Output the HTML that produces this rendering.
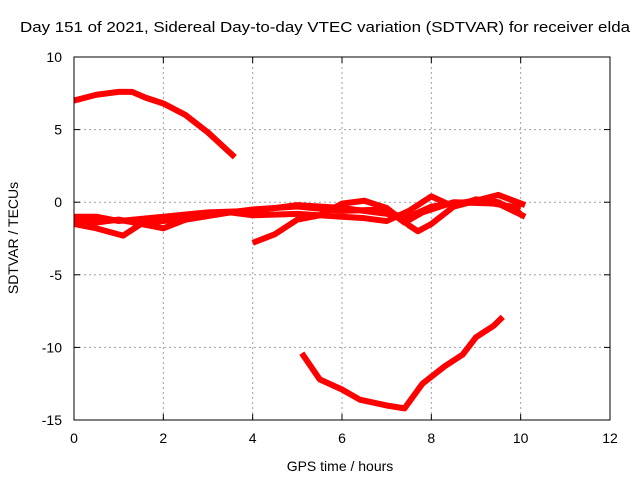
<!DOCTYPE html>
<html><head><meta charset="utf-8"><style>
body{margin:0;background:#fff}
svg{display:block;font-family:"Liberation Sans",sans-serif}
</style></head><body>
<svg id="chart" width="640" height="480">
<text x="20" y="32" font-size="15" textLength="610" lengthAdjust="spacingAndGlyphs">Day 151 of 2021, Sidereal Day-to-day VTEC variation (SDTVAR) for receiver elda</text>
<text x="340" y="471" font-size="14" text-anchor="middle">GPS time / hours</text>
<text transform="translate(18,238) rotate(-90)" font-size="14" text-anchor="middle">SDTVAR / TECUs</text>
<g id="grid"></g><g id="series"></g><g id="axes"></g>
</svg>
<script>
const xTicks=[0,2,4,6,8,10,12];
const yTicks=[10,5,0,-5,-10,-15];
const sA_x=[0,0.5,1.0,1.3,1.6,2.0,2.5,3.0,3.6];
const sA_y=[7.0,7.4,7.6,7.6,7.2,6.8,6.0,4.8,3.1];
const sB_x=[5.1,5.5,6.0,6.4,7.0,7.4,7.8,8.3,8.7,9.0,9.4,9.6];
const sB_y=[-10.4,-12.2,-12.9,-13.6,-14.0,-14.2,-12.5,-11.3,-10.5,-9.3,-8.5,-7.9];
const sC_x=[0,0.5,1,2,3,4,5,6,7,7.5,8,9,10];
const sC_y=[-1.0,-1.0,-1.3,-1.0,-0.7,-0.6,-0.2,-0.4,-0.8,-1.0,-0.3,0.1,-0.4];
const sD_x=[0,0.5,1.1,1.5,2,3,4,5,6,7,7.4,7.8,8.5,9.5,10.1];
const sD_y=[-1.5,-1.8,-2.3,-1.5,-1.3,-0.9,-0.5,-0.3,-0.6,-0.5,-1.4,-0.7,0,-0.1,-1.0];
const sE_x=[0,0.5,1,2,2.5,3.5,4,5,6,6.5,7,7.5,8,8.5,9.5,10.1];
const sE_y=[-1.2,-1.4,-1.2,-1.8,-1.2,-0.7,-0.9,-0.8,-1.0,-1.1,-1.3,-0.6,0.4,-0.3,0.5,-0.2];
const sF_x=[4,4.5,5,5.5,6,6.5,7,7.5,7.7,8.0,8.5,9,9.5,10];
const sF_y=[-2.8,-2.2,-1.2,-0.9,-0.1,0.1,-0.4,-1.6,-2.0,-1.5,-0.3,0.2,0,-0.8];
const X0=74,X1=610,Y0=420,Y1=57;
const sx=v=>X0+(v-0)/(12-0)*(X1-X0);
const sy=v=>Y0-(v+15)/25*(Y0-Y1);
const NS="http://www.w3.org/2000/svg";
function mk(t,a,p){const e=document.createElementNS(NS,t);for(const k in a)e.setAttribute(k,a[k]);p.appendChild(e);return e;}
const grid=document.getElementById('grid'),axes=document.getElementById('axes'),ser=document.getElementById('series');
xTicks.forEach(t=>{
 if(t>0&&t<12){const g=mk('line',{x1:sx(t),x2:sx(t),y1:Y1,y2:Y0,stroke:'#a0a0a0','stroke-dasharray':'2,3'},grid);
 
 }
 const l=mk('text',{x:sx(t),y:Y0+23,'font-size':14,'text-anchor':'middle'},axes);l.textContent=t;
 
 
 mk('line',{x1:sx(t),x2:sx(t),y1:Y0,y2:Y0-6,stroke:'#000'},axes);
 mk('line',{x1:sx(t),x2:sx(t),y1:Y1,y2:Y1+6,stroke:'#000'},axes);
});
yTicks.forEach(t=>{
 if(t>-15&&t<10){const g=mk('line',{x1:X0,x2:X1,y1:sy(t),y2:sy(t),stroke:'#a0a0a0','stroke-dasharray':'2,3'},grid);
 
 }
 const l=mk('text',{x:X0-12,y:sy(t)+5,'font-size':14,'text-anchor':'end'},axes);l.textContent=t;
 
 
 mk('line',{x1:X0,x2:X0+6,y1:sy(t),y2:sy(t),stroke:'#000'},axes);
 mk('line',{x1:X1,x2:X1-6,y1:sy(t),y2:sy(t),stroke:'#000'},axes);
});
const fr=mk('rect',{x:X0,y:Y1,width:X1-X0,height:Y0-Y1,fill:'none',stroke:'#000'},axes);


[[sA_x,sA_y],[sB_x,sB_y],[sC_x,sC_y],[sD_x,sD_y],[sE_x,sE_y],[sF_x,sF_y]].forEach((s,i)=>{
 const p=mk('polyline',{points:s[0].map((x,j)=>sx(x)+','+sy(s[1][j])).join(' '),fill:'none',stroke:'#f00','stroke-width':6,'stroke-linejoin':'round'},ser);
 
 
});
</script>
</body></html>
